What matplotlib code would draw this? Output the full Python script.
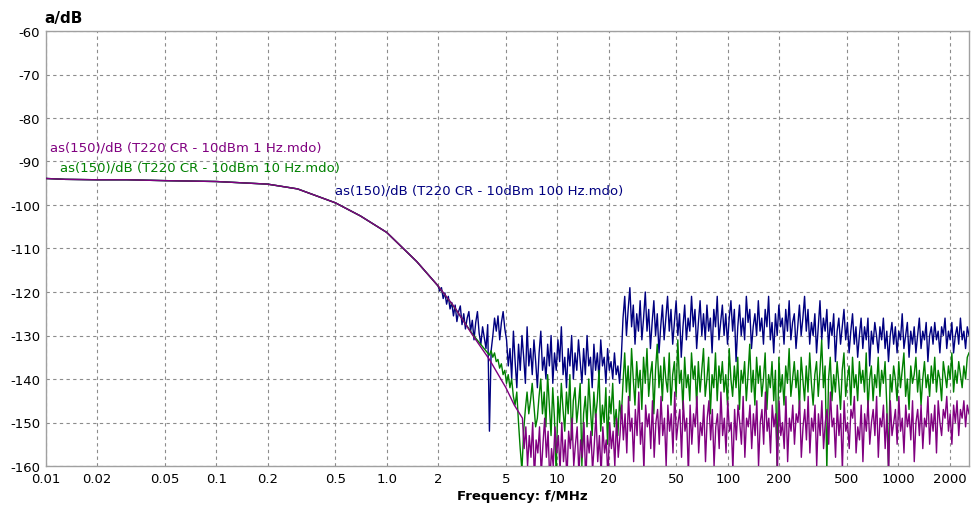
import numpy as np
import matplotlib
matplotlib.use("Agg")
import matplotlib.pyplot as plt
from matplotlib.ticker import FixedLocator, NullLocator

# ---- data ----
# common smooth low-frequency part (MHz, dB)
f_smooth = [0.01, 0.013, 0.02, 0.03, 0.05, 0.1, 0.2, 0.3, 0.5, 0.7, 1.0, 1.5]
a_smooth = [-93.9, -94.1, -94.2, -94.2, -94.4, -94.6, -95.2, -96.3, -99.5, -102.5, -106.3, -113.0]

# per-series transition points (MHz, dB)
purple_trans_f = [2.0, 2.5, 3.2, 4.0, 5.0, 5.6]
purple_trans_a = [-118.6, -123.5, -130.0, -135.5, -142.0, -146.0]
green_trans_f = [2.0, 2.5, 3.2]
green_trans_a = [-118.6, -123.6, -129.8]
blue_trans_f = []
blue_trans_a = []

# noisy part: start frequency of each series, all end at 2600 MHz
noise_stop = 2600.0
purple_noise_start = 6.25
green_noise_start = 4.0
blue_noise_start = 2.0

purple_noise = [
    -149, -156, -151, -160, -153, -158, -150, -163, -154, -157,
    -151, -162, -155, -149, -158, -152, -164, -156, -160, -151,
    -157, -153, -161, -150, -159, -154, -163, -152, -156, -149,
    -160, -155, -151, -162, -154, -158, -150, -164, -153, -157,
    -152, -161, -155, -148, -159, -153, -162, -151, -157, -154,
    -163, -150, -156, -152, -160, -149, -158, -153,
    -146, -154, -148, -157, -144, -152, -149, -159, -147, -153,
    -143, -155, -150, -161, -146, -151, -148, -156, -145, -158,
    -150, -147, -155, -144, -153, -149, -160, -146, -152, -148,
    -157, -143, -154, -150, -147, -158, -145, -152, -149, -162,
    -146, -155, -148, -151, -144, -157, -150, -153, -146, -159,
    -149, -145, -154, -147, -160, -151, -148, -156, -143, -153,
    -149, -157, -145, -152, -150, -161, -147, -154, -146, -150,
    -155, -144, -158, -149, -151, -146, -156, -148, -153, -145,
    -160, -150, -147, -155, -143, -152, -149, -157, -146, -151,
    -148, -162, -145, -153, -150, -156, -144, -159, -149, -152,
    -146, -155, -148, -150, -145, -158, -151, -147, -154, -144,
    -157, -149, -152, -146, -160, -148, -153, -145, -156, -150,
    -147, -155, -143, -151, -149, -158, -146, -153, -148, -161,
    -145, -152, -150, -156, -147, -149, -144, -157, -151, -154,
    -146, -159, -148, -152, -145, -155, -150, -147, -153, -144,
    -158, -149, -151, -146, -156, -148, -162, -145, -153, -150,
    -147, -155, -144, -152, -149, -157, -146, -151, -148, -154,
    -145, -159, -150, -147, -153, -146, -156, -149, -151, -144,
    -155, -148, -152, -146, -157, -145, -150, -153, -147, -149,
    -144, -152, -148, -155, -146, -150, -145, -153, -147, -149,
    -145, -151, -146, -148,
]

green_noise = [
    -134.5, -133.5, -135.0, -134.0, -136.0, -135.5, -137.5, -136.5, -139.0, -138.0,
    -141, -139, -142, -140, -144, -146, -143, -150, -156, -161,
    -152, -147, -143, -148, -145, -141, -146, -151, -149, -144,
    -140, -148, -143, -151, -139, -146, -153, -142, -149, -162,
    -144, -150, -141, -147, -152, -143, -148, -139, -154, -145,
    -142, -150, -146, -141, -160, -148, -144, -151, -140, -147,
    -153, -143, -149, -145, -138, -152, -146, -150, -142, -155,
    -144, -148, -141, -151, -147, -153, -145, -149,
    -141, -134, -143, -137, -145, -133, -140, -146, -136, -142,
    -138, -147, -135, -141, -133, -144, -139, -136, -148, -138,
    -132, -142, -137, -145, -135, -140, -143, -134, -146, -139,
    -136, -144, -131, -141, -138, -147, -135, -142, -139, -145,
    -134, -140, -137, -146, -136, -143, -138, -133, -144, -140,
    -135, -148, -139, -142, -134, -145, -137, -141, -136, -143,
    -139, -146, -133, -140, -144, -137, -142, -135, -147, -138,
    -141, -136, -145, -139, -132, -143, -138, -146, -135, -141,
    -137, -144, -140, -134, -147, -139, -142, -136, -145, -138,
    -160, -135, -143, -139, -146, -137, -141, -133, -144, -140,
    -136, -142, -138, -147, -135, -140, -145, -137, -143, -134,
    -141, -146, -139, -136, -144, -138, -131, -142, -137, -161,
    -140, -135, -145, -139, -143, -136, -141, -147, -138, -134,
    -144, -140, -137, -146, -135, -142, -139, -145, -136, -141,
    -138, -143, -134, -147, -140, -137, -145, -139, -142, -135,
    -144, -138, -141, -136, -146, -160, -139, -143, -137, -140,
    -145, -136, -142, -138, -134, -144, -140, -147, -137, -141,
    -139, -135, -143, -138, -146, -140, -136, -142, -139, -144,
    -137, -141, -135, -143, -138, -140, -145, -136, -139, -142,
    -137, -140, -134, -143, -138, -141, -136, -139, -142, -137,
    -140, -135, -134,
]

blue_noise = [
    -118.6, -119.8, -119.0, -121.5, -120.2, -122.8, -121.0, -123.9, -122.4, -125.5,
    -123.0, -126.8, -124.5, -123.2, -127.5, -125.0, -128.5, -126.0, -124.5, -129.0,
    -126.5, -131.0, -127.0, -124.5, -129.5, -132.0, -128.0, -130.5, -133.0, -127.5,
    -152.0, -133.5, -130.0, -126.0, -129.0, -125.5, -131.0, -127.0, -124.5, -128.5,
    -131, -137, -133, -140, -129, -136, -142, -132, -138, -130,
    -135, -141, -128, -137, -133, -139, -131, -136, -142, -134,
    -129, -138, -135, -140, -132, -137, -130, -141, -134, -138,
    -131, -136, -128, -139, -135, -142, -133, -137, -130, -140,
    -134, -138, -131, -136, -141, -133, -139, -130, -137, -135,
    -142, -132, -138, -134, -140, -131, -137, -135, -141, -133,
    -138, -136, -140, -134, -139, -137, -141, -135,
    -126, -121, -130, -124, -119, -128, -123, -132, -125, -129,
    -122, -131, -126, -120, -129, -124, -133, -127, -122, -130,
    -125, -134, -128, -123, -131, -126, -121, -129, -124, -132,
    -127, -122, -130, -125, -135, -128, -123, -131, -126, -129,
    -121, -128, -124, -133, -127, -122, -130, -125, -131, -123,
    -129, -126, -134, -124, -128, -121, -131, -127, -123, -130,
    -125, -132, -126, -122, -129, -124, -136, -128, -123, -130,
    -126, -131, -121, -127, -124, -133, -128, -125, -130, -122,
    -129, -126, -132, -124, -128, -121, -131, -127, -134, -125,
    -130, -123, -128, -126, -132, -124, -129, -122, -131, -127,
    -125, -133, -128, -123, -130, -126, -121, -129, -124, -132,
    -127, -130, -125, -134, -128, -122, -131, -126, -129, -124,
    -133, -127, -130, -125, -136, -129, -126, -132, -128, -124,
    -131, -127, -134, -129, -125, -132, -128, -135, -130, -126,
    -133, -128, -131, -126, -137, -129, -132, -127, -130, -134,
    -128, -131, -126, -133, -129, -136, -130, -127, -132, -128,
    -134, -129, -131, -125, -133, -130, -127, -135, -129, -132,
    -128, -134, -130, -126, -133, -129, -131, -127, -136, -130,
    -128, -132, -127, -131, -129, -134, -128, -130, -126, -133,
    -129, -131, -127, -134, -130, -128, -132, -126, -131, -129,
    -133, -128, -130,
]

labels = [
    "as(150)/dB (T220 CR - 10dBm 1 Hz.mdo)",
    "as(150)/dB (T220 CR - 10dBm 10 Hz.mdo)",
    "as(150)/dB (T220 CR - 10dBm 100 Hz.mdo)",
]
colors = ["#800080", "#008000", "#000080"]

xticks = [0.01, 0.02, 0.05, 0.1, 0.2, 0.5, 1.0, 2, 5, 10, 20, 50, 100, 200, 500, 1000, 2000]
xticklabels = ["0.01", "0.02", "0.05", "0.1", "0.2", "0.5", "1.0", "2", "5", "10", "20",
               "50", "100", "200", "500", "1000", "2000"]
yticks = [-160, -150, -140, -130, -120, -110, -100, -90, -80, -70, -60]


def full_series(trans_f, trans_a, start, vals):
    f_n = np.geomspace(start, noise_stop, len(vals))
    f = np.concatenate([f_smooth, trans_f, f_n])
    a = np.concatenate([a_smooth, trans_a, vals])
    return f, a


plt.rcParams["font.family"] = ["DejaVu Sans"]
plt.rcParams["axes.unicode_minus"] = False
fig = plt.figure(figsize=(9.71, 5.06), dpi=100)
ax = fig.add_axes([45.7 / 971, 1 - 467 / 506, (969 - 45.7) / 971, (467 - 32) / 506])

series = [
    (purple_trans_f, purple_trans_a, purple_noise_start, purple_noise),
    (green_trans_f, green_trans_a, green_noise_start, green_noise),
    (blue_trans_f, blue_trans_a, blue_noise_start, blue_noise),
]
for k in [2, 1, 0]:
    f, a = full_series(*series[k])
    ax.plot(f, a, color=colors[k], lw=1.0, zorder=3 + (2 - k))

ax.set_xscale("log")
ax.set_xlim(0.01, 2600)
ax.set_ylim(-160, -60)
ax.xaxis.set_major_locator(FixedLocator(xticks))
ax.xaxis.set_minor_locator(NullLocator())
ax.set_xticklabels(xticklabels)
ax.set_yticks(yticks)
ax.tick_params(axis="both", length=0, labelsize=9.5, colors="black", pad=4)
ax.grid(True, color="#8c8c8c", linestyle=(0, (3, 3)), linewidth=0.8)
for s in ax.spines.values():
    s.set_color("#a0a0a0")
    s.set_linewidth(1.0)

# series labels
ax.text(0.0106, -86.6, labels[0], color=colors[0], fontsize=9.5, va="center", ha="left")
ax.text(0.0121, -91.2, labels[1], color=colors[1], fontsize=9.5, va="center", ha="left")
ax.text(0.50, -96.6, labels[2], color=colors[2], fontsize=9.5, va="center", ha="left")

fig.text(44 / 971, 1 - 19 / 506, "a/dB", fontsize=11, fontweight="bold", ha="left", va="center")
fig.text(522 / 971, 1 - 497 / 506, "Frequency: f/MHz", fontsize=9.5, fontweight="bold",
         ha="center", va="center")

fig.savefig("out.png", dpi=100)
